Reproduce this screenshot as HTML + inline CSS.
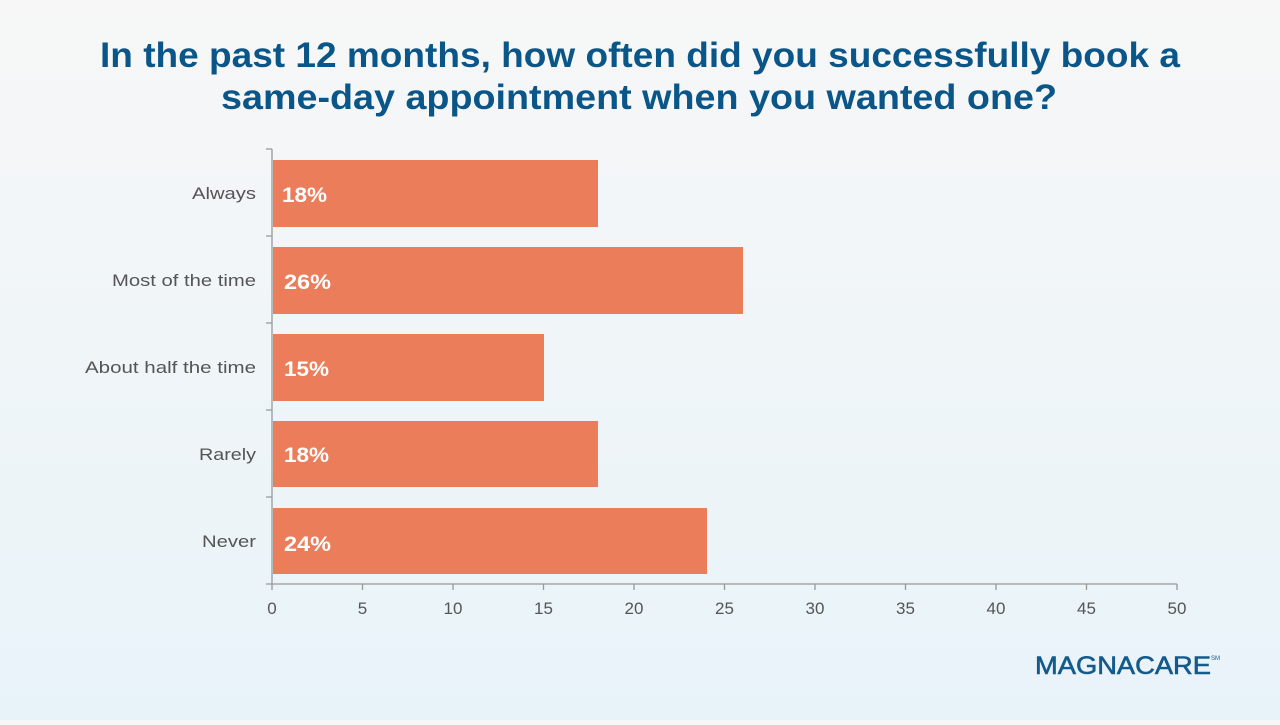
<!DOCTYPE html>
<html><head><meta charset="utf-8"><style>
html,body{margin:0;padding:0;}
body{width:1280px;height:720px;background:linear-gradient(#f7f7f7,#e8f3f9);font-family:"Liberation Sans",sans-serif;overflow:hidden;}
</style></head><body>
<svg width="1280" height="720" xmlns="http://www.w3.org/2000/svg" font-family="Liberation Sans, sans-serif">
<text x="100" y="67" font-size="35" font-weight="bold" fill="#0b5688" textLength="1080" lengthAdjust="spacingAndGlyphs">In the past 12 months, how often did you successfully book a</text>
<text x="221" y="109" font-size="35" font-weight="bold" fill="#0b5688" textLength="836" lengthAdjust="spacingAndGlyphs">same-day appointment when you wanted one?</text>
<g fill="#ec7d5a">
<rect x="273" y="160" width="325" height="67"/>
<rect x="273" y="247" width="470" height="67"/>
<rect x="273" y="334" width="271" height="67"/>
<rect x="273" y="421" width="325" height="66"/>
<rect x="273" y="508" width="434" height="66"/>
</g>
<g fill="#fff" font-size="21" font-weight="bold">
<text x="282" y="202" textLength="45" lengthAdjust="spacingAndGlyphs">18%</text><text x="284" y="289" textLength="47" lengthAdjust="spacingAndGlyphs">26%</text><text x="284" y="376" textLength="45" lengthAdjust="spacingAndGlyphs">15%</text><text x="284" y="462" textLength="45" lengthAdjust="spacingAndGlyphs">18%</text><text x="284" y="551" textLength="47" lengthAdjust="spacingAndGlyphs">24%</text>
</g>
<g fill="#555" font-size="17">
<text x="192" y="199" textLength="64" lengthAdjust="spacingAndGlyphs">Always</text><text x="112" y="286" textLength="144" lengthAdjust="spacingAndGlyphs">Most of the time</text><text x="85" y="373" textLength="171" lengthAdjust="spacingAndGlyphs">About half the time</text><text x="199" y="460" textLength="57" lengthAdjust="spacingAndGlyphs">Rarely</text><text x="202" y="547" textLength="54" lengthAdjust="spacingAndGlyphs">Never</text>
</g>
<g stroke="#999" stroke-width="1.3" fill="none">
<line x1="272" y1="149" x2="272" y2="590"/>
<line x1="266" y1="584" x2="1177" y2="584"/>
<path d="M266 149H272M266 236H272M266 323H272M266 410H272M266 497H272"/>
<path d="M362.5 584V590M453 584V590M543.5 584V590M634 584V590M724.5 584V590M815 584V590M905.5 584V590M996 584V590M1086.5 584V590M1177 584V590"/>
</g>
<g fill="#555" font-size="17" text-anchor="middle">
<text x="272" y="614">0</text><text x="362.5" y="614">5</text><text x="453" y="614">10</text><text x="543.5" y="614">15</text><text x="634" y="614">20</text><text x="724.5" y="614">25</text><text x="815" y="614">30</text><text x="905.5" y="614">35</text><text x="996" y="614">40</text><text x="1086.5" y="614">45</text><text x="1177" y="614">50</text>
</g>
<text x="1035" y="674" font-size="25" fill="#145a8a" stroke="#145a8a" stroke-width="0.6" textLength="176" lengthAdjust="spacingAndGlyphs">MAGNACARE</text>
<text x="1211" y="660" font-size="6" fill="#145a8a">SM</text>
</svg>
</body></html>
